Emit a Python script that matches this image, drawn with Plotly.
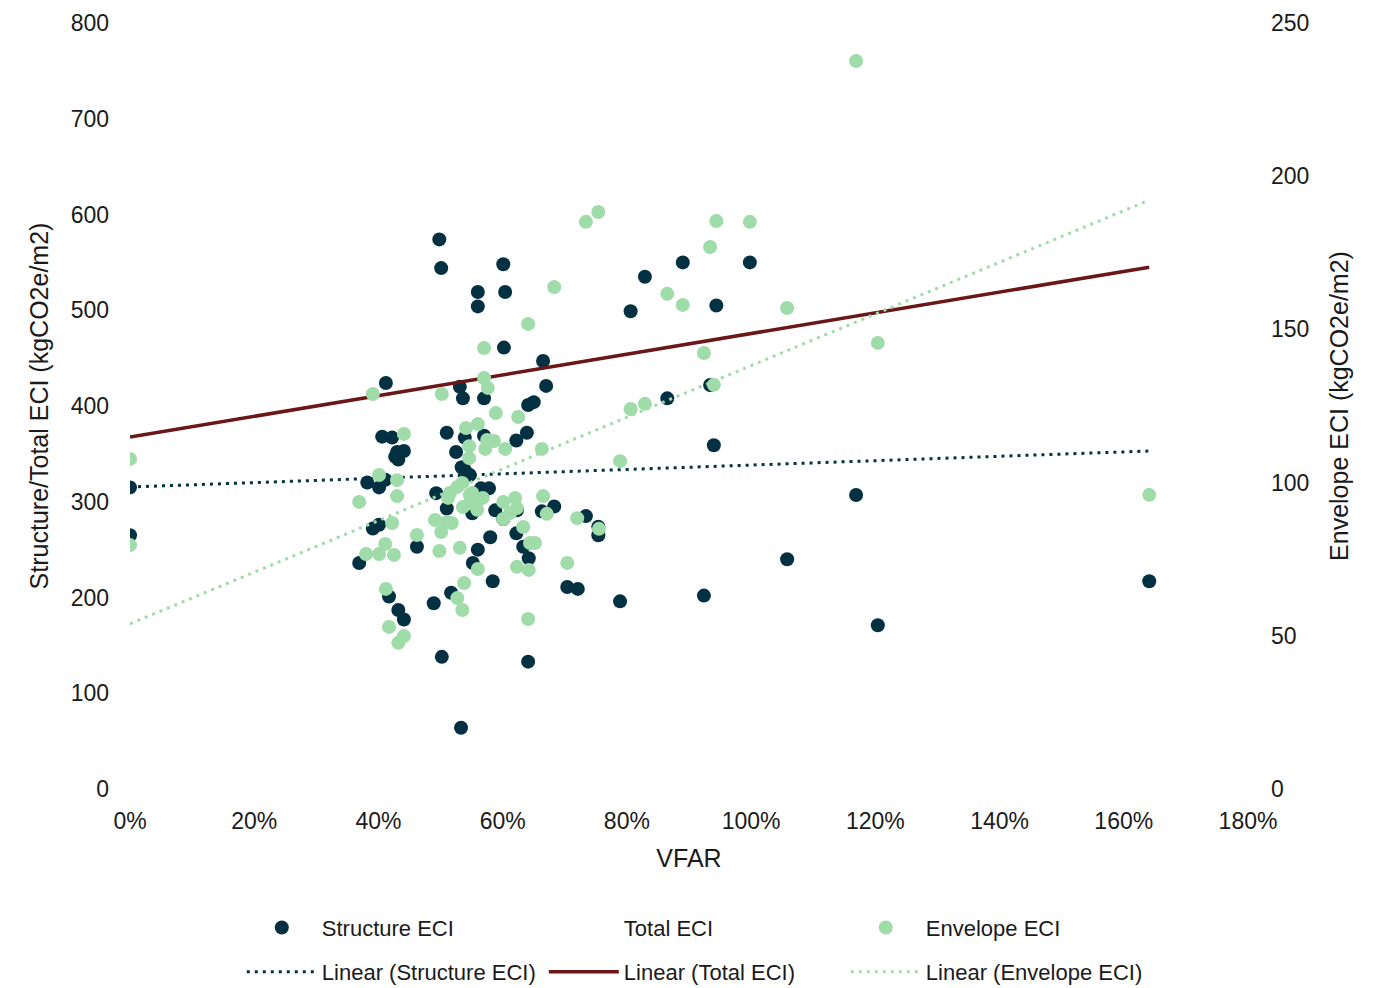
import plotly.graph_objects as go

# ---------------- data ----------------
structure_x = [0.000, 0.000, 0.369, 0.382, 0.391, 0.401, 0.401, 0.411, 0.406, 0.412,
               0.422, 0.417, 0.427, 0.432, 0.430, 0.441, 0.432, 0.441, 0.462, 0.489,
               0.498, 0.501, 0.502, 0.510, 0.510, 0.517, 0.525, 0.531, 0.533, 0.536,
               0.539, 0.539, 0.547, 0.551, 0.552, 0.560, 0.560, 0.560, 0.570, 0.570,
               0.578, 0.580, 0.584, 0.588, 0.601, 0.604, 0.602, 0.601, 0.622, 0.622,
               0.623, 0.633, 0.642, 0.639, 0.641, 0.650, 0.641, 0.665, 0.670, 0.663,
               0.683, 0.704, 0.721, 0.734, 0.754, 0.754, 0.789, 0.806, 0.829, 0.865,
               0.890, 0.924, 0.934, 0.940, 0.944, 0.998, 1.058, 1.169, 1.204, 1.641,
               0.534, 0.565, 0.493]
structure_y = [315, 265, 236, 320, 272, 276, 315, 323, 368, 424,
               367, 201, 347, 344, 352, 353, 187, 177, 253, 194,
               574, 544, 138, 372, 293, 205, 352, 420, 64, 408,
               367, 333, 328, 288, 236, 519, 504, 250, 408, 369,
               314, 263, 217, 291, 548, 519, 461, 282, 364, 267,
               291, 253, 241, 372, 401, 404, 133, 447, 421, 290,
               295, 211, 209, 285, 274, 265, 196, 499, 535, 408,
               550, 202, 422, 359, 505, 550, 240, 307, 171, 217,
               336, 314, 309]

envelope_x = [0.000, 0.000, 0.369, 0.380, 0.391, 0.401, 0.401, 0.411, 0.412, 0.417,
              0.422, 0.425, 0.430, 0.430, 0.432, 0.441, 0.441, 0.462, 0.491, 0.498,
              0.501, 0.502, 0.512, 0.510, 0.518, 0.527, 0.527, 0.531, 0.535, 0.535,
              0.538, 0.541, 0.546, 0.546, 0.547, 0.560, 0.560, 0.557, 0.570, 0.570,
              0.576, 0.572, 0.575, 0.586, 0.568, 0.589, 0.604, 0.601, 0.601, 0.620,
              0.623, 0.625, 0.623, 0.633, 0.641, 0.641, 0.642, 0.644, 0.652, 0.663,
              0.665, 0.671, 0.683, 0.704, 0.720, 0.734, 0.754, 0.755, 0.789, 0.806,
              0.829, 0.865, 0.890, 0.924, 0.934, 0.940, 0.944, 0.998, 1.058, 1.169,
              1.204, 1.641, 0.551, 0.547, 0.559, 0.536, 0.515, 0.612]
envelope_y = [107.7, 79.6, 93.7, 76.7, 128.9, 102.5, 76.7, 80.0, 65.3, 52.9,
              86.8, 76.4, 100.8, 95.6, 47.7, 115.9, 49.9, 82.9, 87.8, 77.7,
              83.9, 128.9, 95.0, 87.1, 86.8, 98.6, 62.3, 78.7, 58.4, 99.9,
              67.2, 117.8, 111.9, 108.0, 96.0, 119.1, 71.8, 92.7, 143.9, 134.1,
              130.9, 111.0, 113.9, 113.6, 95.0, 122.7, 111.0, 93.7, 88.1, 95.0,
              91.7, 121.4, 72.5, 85.5, 151.8, 55.5, 71.5, 80.3, 80.3, 111.0,
              95.6, 89.8, 163.8, 73.8, 88.4, 185.1, 188.3, 84.9, 107.0, 124.0,
              125.7, 161.6, 158.0, 142.3, 176.9, 131.9, 185.4, 185.1, 157.0, 237.6,
              145.6, 96.0, 96.6, 93.3, 91.1, 92.0, 96.6, 90.1]

# Linear trend lines (values at the first and last VFAR)
trend_x = [0.0, 1.641]
structure_trend = [315.4, 353.0]
total_trend = [367.6, 545.0]
envelope_trend = [53.9, 192.2]

x_ticks = [0, 0.2, 0.4, 0.6, 0.8, 1.0, 1.2, 1.4, 1.6, 1.8]
left_ticks = [0, 100, 200, 300, 400, 500, 600, 700, 800]
right_ticks = [0, 50, 100, 150, 200, 250]

# ---------------- styling ----------------
DARK = "#033142"
GREEN = "#A0DCA9"
MAROON = "#6B1718"
FONT = "Liberation Sans"
TXT = "#1a1a1a"
TICK_SIZE = 23
TITLE_SIZE = 25
LEG_SIZE = 22
MSIZE = 14

fig = go.Figure()

fig.add_trace(go.Scatter(
    x=structure_x, y=structure_y, mode="markers", name="Structure ECI",
    marker=dict(color=DARK, size=MSIZE, line=dict(width=0)), legend="legend"))
fig.add_trace(go.Scatter(
    x=[None], y=[None], mode="markers", name="Total ECI",
    marker=dict(color="rgba(0,0,0,0)", size=MSIZE, line=dict(width=0)), legend="legend"))
fig.add_trace(go.Scatter(
    x=envelope_x, y=envelope_y, mode="markers", name="Envelope ECI", yaxis="y2",
    marker=dict(color=GREEN, size=MSIZE, line=dict(width=0)), legend="legend"))

fig.add_trace(go.Scatter(
    x=trend_x, y=structure_trend, mode="lines", name="Linear (Structure ECI)",
    line=dict(color=DARK, width=3, dash="3px,5px"), legend="legend2"))
fig.add_trace(go.Scatter(
    x=trend_x, y=total_trend, mode="lines", name="Linear (Total ECI)",
    line=dict(color=MAROON, width=3.5), legend="legend2"))
fig.add_trace(go.Scatter(
    x=trend_x, y=envelope_trend, mode="lines", name="Linear (Envelope ECI)", yaxis="y2",
    line=dict(color=GREEN, width=3, dash="3px,5px"), legend="legend2"))

legend_common = dict(orientation="h", xanchor="left", yanchor="middle",
                     font=dict(family=FONT, size=LEG_SIZE, color=TXT),
                     itemwidth=70, entrywidth=217, entrywidthmode="pixels",
                     bgcolor="rgba(0,0,0,0)", traceorder="normal",
                     itemclick=False, itemdoubleclick=False)

# The page body adds an 8px offset, so the figure is 8px smaller than the window
fig.update_layout(
    width=1367, height=980,
    margin=dict(l=122, r=127, t=15, b=199, autoexpand=False),
    paper_bgcolor="white", plot_bgcolor="white",
    font=dict(family=FONT, size=LEG_SIZE, color=TXT),
    showlegend=True,
    legend=dict(x=0.100, y=-0.181, **legend_common),
    legend2=dict(x=0.100, y=-0.239, **legend_common),
    xaxis=dict(range=[0, 1.8], tickvals=x_ticks, tickformat=".0%",
               showgrid=False, zeroline=False, showline=False, automargin=False,
               ticks="", ticklabelstandoff=16,
               tickfont=dict(family=FONT, size=TICK_SIZE, color=TXT),
               title=dict(text="VFAR", font=dict(family=FONT, size=TITLE_SIZE, color=TXT), standoff=16)),
    yaxis=dict(range=[0, 800], tickvals=left_ticks,
               showgrid=False, zeroline=False, showline=False, automargin=False,
               ticks="", ticklabelstandoff=20,
               tickfont=dict(family=FONT, size=TICK_SIZE, color=TXT),
               title=dict(text="Structure/Total ECI (kgCO2e/m2)",
                          font=dict(family=FONT, size=TITLE_SIZE, color=TXT), standoff=14)),
    yaxis2=dict(range=[0, 250], tickvals=right_ticks, overlaying="y", side="right",
                showgrid=False, zeroline=False, showline=False, automargin=False,
                ticks="", ticklabelstandoff=22,
                tickfont=dict(family=FONT, size=TICK_SIZE, color=TXT),
                title=dict(text="Envelope ECI (kgCO2e/m2)",
                           font=dict(family=FONT, size=TITLE_SIZE, color=TXT), standoff=22)),
)

fig.write_html("out.html")
